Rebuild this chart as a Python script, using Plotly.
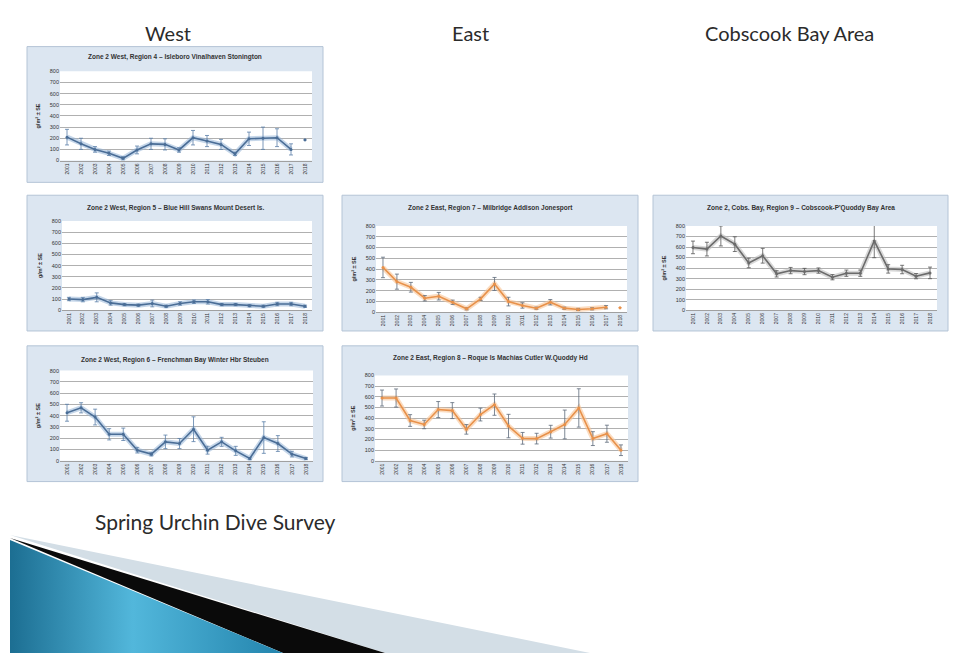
import plotly.graph_objects as go

W, H = 953, 656

years = [str(y) for y in range(2001, 2019)]

# Zone 2 West
r4_vals = [210, 150, 100, 65, 20, 95, 150, 145, 95, 205, 175, 145, 60, 195, 200, 205, 100, None]
r4_err = [70, 50, 25, 20, 15, 35, 50, 50, 20, 65, 50, 45, 15, 60, 100, 80, 50, 0]
r4_extra = 185

r5_vals = [100, 95, 115, 65, 50, 45, 60, 35, 60, 75, 75, 50, 50, 40, 35, 55, 55, 35]
r5_err = [15, 20, 40, 20, 10, 10, 30, 10, 15, 15, 20, 10, 10, 10, 10, 15, 15, 10]

r6_vals = [426, 470, 388, 235, 235, 94, 59, 168, 153, 280, 94, 168, 88, 20, 206, 153, 59, 20]
r6_err = [75, 45, 70, 50, 55, 25, 15, 60, 45, 110, 35, 40, 40, 10, 140, 70, 25, 10]

# Zone 2 East
r7_vals = [415, 283, 231, 129, 148, 92, 31, 123, 262, 98, 62, 37, 92, 37, 25, 31, 46, None]
r7_err = [95, 70, 45, 25, 35, 20, 10, 15, 60, 40, 25, 10, 25, 10, 10, 10, 15, 0]
r7_extra = 40

r8_vals = [589, 589, 378, 341, 481, 471, 295, 434, 527, 326, 211, 208, 273, 341, 496, 208, 254, 99]
r8_err = [75, 85, 55, 40, 75, 75, 45, 60, 100, 110, 55, 50, 60, 135, 180, 65, 80, 50]

# Cobscook Bay
r9_vals = [596, 580, 705, 627, 448, 517, 345, 376, 367, 376, 313, 351, 351, 658, 392, 386, 323, 354]
r9_err = [60, 65, 95, 70, 45, 70, 30, 30, 30, 25, 25, 30, 30, 160, 40, 40, 25, 55]

y_ticks = [0, 100, 200, 300, 400, 500, 600, 700, 800]

BLUE = "#4a6d96"
BLUE_GLOW = "rgba(150,180,215,0.55)"
ORANGE = "#e8914a"
ORANGE_GLOW = "rgba(248,196,150,0.6)"
GRAY = "#6b6b6b"
GRAY_GLOW = "rgba(190,190,190,0.6)"


def px(x):
    return x / W


def py(y):
    return 1 - y / H


panels = [
    # title, vals, err, extra, color, glow, errcolor, box(px), plot(px), title y
    ("Zone 2 West, Region 4 \u2013 Isleboro Vinalhaven Stonington", r4_vals, r4_err, r4_extra,
     BLUE, BLUE_GLOW, "#5b7fa8", (27, 44, 323, 181), (60, 69, 312, 159), 55),
    ("Zone 2 West, Region 5 \u2013 Blue Hill Swans Mount Desert Is.", r5_vals, r5_err, None,
     BLUE, BLUE_GLOW, "#5b7fa8", (27, 194, 323, 331), (62, 220, 312, 310), 207),
    ("Zone 2 West, Region 6 \u2013 Frenchman Bay Winter Hbr Steuben", r6_vals, r6_err, None,
     BLUE, BLUE_GLOW, "#5b7fa8", (27, 346, 323, 483), (60, 371, 313, 462), 360),
    ("Zone 2 East, Region 7 \u2013 Milbridge Addison Jonesport", r7_vals, r7_err, r7_extra,
     ORANGE, ORANGE_GLOW, "#5d6a7a", (342, 194, 638, 331), (376, 225, 627, 312), 207),
    ("Zone 2 East, Region 8 \u2013 Roque Is Machias Cutler W.Quoddy Hd", r8_vals, r8_err, None,
     ORANGE, ORANGE_GLOW, "#5d6a7a", (342, 346, 638, 483), (375, 376, 628, 462), 358),
    ("Zone 2, Cobs. Bay, Region 9 \u2013 Cobscook-P'Quoddy Bay Area", r9_vals, r9_err, None,
     GRAY, GRAY_GLOW, "#555555", (653, 194, 948, 331), (686, 225, 937, 310), 207),
]

fig = go.Figure()
shapes = []
annotations = []
layout_axes = {}

for i, (title, vals, err, extra, col, glow, ecol, box, plot, ty) in enumerate(panels, start=1):
    xa = "x" if i == 1 else f"x{i}"
    ya = "y" if i == 1 else f"y{i}"
    xkey = "xaxis" if i == 1 else f"xaxis{i}"
    ykey = "yaxis" if i == 1 else f"yaxis{i}"

    bx0, by0, bx1, by1 = box
    shapes.append(dict(type="rect", xref="paper", yref="paper",
                       x0=px(bx0), x1=px(bx1), y0=py(by1), y1=py(by0),
                       fillcolor="#dce6f1", line=dict(color="#b4c4d6", width=1), layer="below"))
    x0, y0, x1, y1 = plot
    shapes.append(dict(type="rect", xref="paper", yref="paper",
                       x0=px(x0), x1=px(x1), y0=py(y1), y1=py(y0),
                       fillcolor="white", line=dict(width=0), layer="below"))

    # glow under line
    fig.add_trace(go.Scatter(x=years, y=vals, mode="lines", xaxis=xa, yaxis=ya,
                             line=dict(color=glow, width=5), hoverinfo="skip", showlegend=False))
    fig.add_trace(go.Scatter(x=years, y=vals, mode="lines+markers", xaxis=xa, yaxis=ya,
                             line=dict(color=col, width=1.6),
                             marker=dict(size=3, color=col),
                             error_y=dict(type="data", array=err, color=ecol, thickness=0.8, width=2),
                             showlegend=False))
    if extra is not None:
        fig.add_trace(go.Scatter(x=[years[-1]], y=[extra], mode="markers", xaxis=xa, yaxis=ya,
                                 marker=dict(size=3, color=col, symbol="diamond"), showlegend=False))

    layout_axes[xkey] = dict(domain=[px(x0), px(x1)], anchor=ya, type="category",
                             range=[-0.5, 17.5], showgrid=False, ticks="",
                             tickangle=-90, tickfont=dict(size=5, color="#333"),
                             showline=True, linecolor="#a0a0a0", linewidth=0.8,
                             fixedrange=True)
    layout_axes[ykey] = dict(domain=[py(y1), py(y0)], anchor=xa, range=[0, 800],
                             tickvals=y_ticks, tickfont=dict(size=5.5, color="#333"),
                             showgrid=True, gridcolor="#b0b0b0", gridwidth=0.8,
                             zeroline=False, showline=False, ticks="",
                             title=dict(text="<b>g/m\u00b2 \u00b1 SE</b>", font=dict(size=5.5, color="#333"),
                                        standoff=8),
                             fixedrange=True)

    annotations.append(dict(text=f"<b>{title}</b>", xref="paper", yref="paper",
                            x=px((bx0 + bx1) / 2), y=py(ty), xanchor="center", yanchor="middle",
                            showarrow=False,
                            font=dict(size=6.5, color="#333", family="Liberation Sans Narrow, Arial")))

# decorative swoosh on a full-page pixel axis
deco = 7
fig.add_trace(go.Scatter(x=[10, 590, 385, 10], y=[537, 656, 656, 537], fill="toself",
                         mode="lines", line=dict(width=0), fillcolor="#d3dee6",
                         xaxis=f"x{deco}", yaxis=f"y{deco}", hoverinfo="skip", showlegend=False))
fig.add_trace(go.Scatter(x=[10, 385, 283, 10], y=[540, 656, 656, 540], fill="toself",
                         mode="lines", line=dict(width=0), fillcolor="#0a0a0a",
                         xaxis=f"x{deco}", yaxis=f"y{deco}", hoverinfo="skip", showlegend=False))
fig.add_trace(go.Scatter(x=[10, 283, 10, 10], y=[542, 656, 656, 542], fill="toself",
                         mode="lines", line=dict(width=0),
                         fillgradient=dict(type="horizontal",
                                           colorscale=[[0, "#1c6e92"], [0.45, "#52b7db"], [1, "#2384ad"]]),
                         xaxis=f"x{deco}", yaxis=f"y{deco}", hoverinfo="skip", showlegend=False))
layout_axes[f"xaxis{deco}"] = dict(domain=[0, 1], range=[0, W], visible=False, fixedrange=True,
                                   anchor=f"y{deco}")
layout_axes[f"yaxis{deco}"] = dict(domain=[0, 1], range=[H, 0], visible=False, fixedrange=True,
                                   anchor=f"x{deco}")

for txt, x, y, anchor, size in [("West", 168, 30, "center", 20),
                                ("East", 470, 30, "center", 20),
                                ("Cobscook Bay Area", 789, 30, "center", 20),
                                ("Spring Urchin Dive Survey", 93, 523, "left", 21)]:
    annotations.append(dict(text=txt, xref="paper", yref="paper", x=px(x), y=py(y),
                            xanchor=anchor, yanchor="middle", showarrow=False,
                            font=dict(size=size, color="#2b2b2b", family="Lato, Open Sans, sans-serif")))

fig.update_layout(
    width=W, height=H,
    margin=dict(l=0, r=0, t=0, b=0),
    paper_bgcolor="white",
    plot_bgcolor="rgba(0,0,0,0)",
    shapes=shapes,
    annotations=annotations,
    font=dict(family="Liberation Sans, Arial"),
    **layout_axes,
)

fig.write_html("out.html", config={"displayModeBar": False},
               post_script="document.body.style.margin='0';document.body.style.overflow='hidden';")
